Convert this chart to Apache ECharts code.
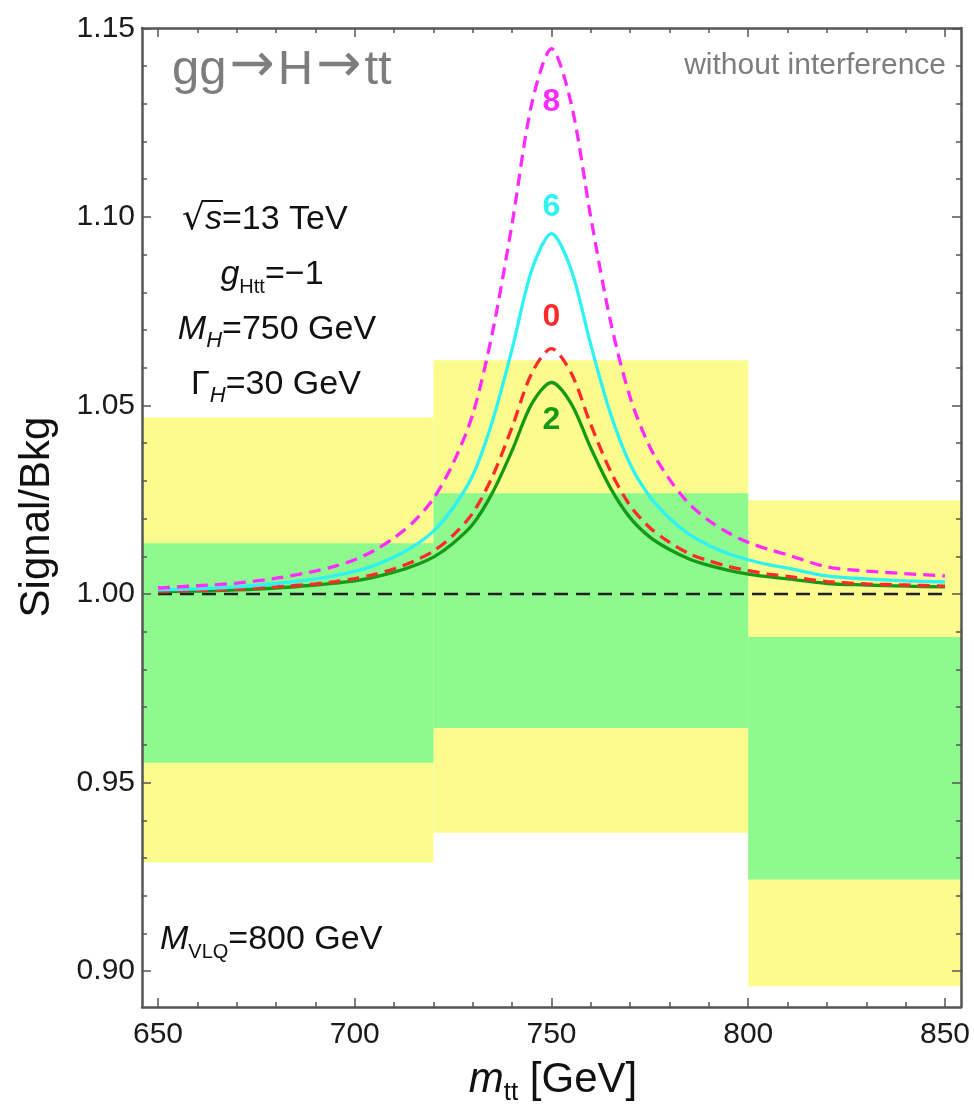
<!DOCTYPE html>
<html><head><meta charset="utf-8">
<script src="https://cdn.jsdelivr.net/npm/echarts@6/dist/echarts.min.js"></script>
<style>html,body{margin:0;padding:0;background:#fff}#c{width:974px;height:1111px}</style>
</head><body><div id="c"></div>
<script>
// ---------- data ----------
const massX  = [650,660,670,680,690,695,700,705,710,715,720,725,730,735,740,745,750,755,760,765,770,775,780,785,790,795,800,805,810,820,830,840,850];
const curve8 = [1.0016,1.0022,1.0029,1.0042,1.0061,1.0074,1.0091,1.0116,1.0149,1.0192,1.0253,1.0347,1.0477,1.0694,1.0983,1.1301,1.1446,1.1301,1.0998,1.0723,1.0521,1.0390,1.0304,1.0239,1.0195,1.0162,1.0137,1.0119,1.0104,1.0072,1.0061,1.0054,1.0048];
const curve6 = [1.0011,1.0014,1.0019,1.0028,1.0040,1.0049,1.0060,1.0076,1.0098,1.0127,1.0167,1.0229,1.0315,1.0459,1.0650,1.0860,1.0956,1.0860,1.0660,1.0478,1.0344,1.0258,1.0201,1.0158,1.0129,1.0107,1.0091,1.0078,1.0069,1.0048,1.0040,1.0035,1.0032];
const curve0 = [1.0007,1.0010,1.0013,1.0019,1.0027,1.0033,1.0041,1.0052,1.0067,1.0087,1.0114,1.0156,1.0215,1.0312,1.0443,1.0586,1.0651,1.0586,1.0449,1.0326,1.0234,1.0176,1.0137,1.0107,1.0088,1.0073,1.0062,1.0053,1.0047,1.0033,1.0027,1.0024,1.0021];
const curve2 = [1.0006,1.0008,1.0011,1.0016,1.0024,1.0029,1.0035,1.0045,1.0058,1.0075,1.0098,1.0135,1.0185,1.0269,1.0381,1.0505,1.0561,1.0505,1.0387,1.0281,1.0202,1.0151,1.0118,1.0093,1.0076,1.0063,1.0053,1.0046,1.0040,1.0028,1.0024,1.0021,1.0019];
const refLineX = [650, 850];
const refLineY = [1.0, 1.0];
const binLo = [640, 720, 800];
const binHi = [720, 800, 860];
const yellowLo = [0.9288, 0.9367, 0.8960];
const yellowHi = [1.0469, 1.0620, 1.0249];
const greenLo  = [0.9553, 0.9645, 0.9243];
const greenHi  = [1.0135, 1.0267, 0.9886];
const xTickLabels = [650, 700, 750, 800, 850];
const xMinorTicks = [660,670,680,690,710,720,730,740,760,770,780,790,810,820,830,840];
const yTickLabels = [0.90, 0.95, 1.00, 1.05, 1.10, 1.15];
const yMinorTicks = [0.91,0.92,0.93,0.94,0.96,0.97,0.98,0.99,1.01,1.02,1.03,1.04,1.06,1.07,1.08,1.09,1.11,1.12,1.13,1.14];
const curveNames = ['8', '6', '0', '2'];
const curveLabelAt = [[750, 1.1305], [750, 1.1026], [750, 1.0734], [750, 1.0460]];

// ---------- styles ----------
const FONT = '"Liberation Sans", Arial, Helvetica, sans-serif';
const FRAME = '#555';
const curveColors = ['#ff2bff', '#2ff2f2', '#ff2a2a', '#169a16'];
const curveDash = [[12, 7], 'solid', [12, 7], 'solid'];
const X_MIN = 645.93, X_MAX = 854.07, Y_MIN = 0.8905, Y_MAX = 1.1501;

function xAx(pos, major, label, line) {
  return {
    type: 'value', position: pos, min: X_MIN, max: X_MAX, z: 10,
    axisLine: { show: line, onZero: false, lineStyle: { color: FRAME, width: 2.5 } },
    axisTick: { show: true, inside: true, length: major ? 9 : 5, customValues: major ? xTickLabels : xMinorTicks,
                lineStyle: { color: FRAME, width: 1.5 } },
    axisLabel: { show: label, customValues: xTickLabels, fontSize: 30, color: '#1a1a1a', fontFamily: FONT, margin: 13,
                 formatter: v => String(Math.round(v)) },
    splitLine: { show: false }
  };
}
function yAx(pos, major, label, line) {
  return {
    type: 'value', position: pos, min: Y_MIN, max: Y_MAX, z: 10,
    axisLine: { show: line, onZero: false, lineStyle: { color: FRAME, width: 2.5 } },
    axisTick: { show: true, inside: true, length: major ? 9 : 5, customValues: major ? yTickLabels : yMinorTicks,
                lineStyle: { color: FRAME, width: 1.5 } },
    axisLabel: { show: label, customValues: yTickLabels, fontSize: 30, color: '#1a1a1a', fontFamily: FONT, margin: 7,
                 formatter: v => v.toFixed(2) },
    splitLine: { show: false }
  };
}

function bandSeries(lo, hi, color) {
  return {
    type: 'custom', xAxisIndex: 0, yAxisIndex: 0, clip: true, z: 1, silent: true,
    encode: { x: [0, 1], y: [2, 3] },
    data: binLo.map((b, i) => [b, binHi[i], lo[i], hi[i]]),
    renderItem: (params, api) => {
      const a = api.coord([api.value(0), api.value(3)]);
      const b = api.coord([api.value(1), api.value(2)]);
      return { type: 'rect', shape: { x: a[0], y: a[1], width: b[0] - a[0], height: b[1] - a[1] },
               style: { fill: color } };
    }
  };
}

const curves = [curve8, curve6, curve0, curve2];
const lineSeries = curves.map((c, k) => ({
  type: 'line', xAxisIndex: 0, yAxisIndex: 0, showSymbol: false, smooth: 0.3, z: 6 - k, silent: true,
  data: massX.map((x, i) => [x, c[i]]),
  lineStyle: { color: curveColors[k], width: 3.3, type: curveDash[k] }
}));

const chart = echarts.init(document.getElementById('c'), null, { renderer: 'canvas' });
chart.setOption({
  backgroundColor: '#fff',
  animation: false,
  grid: { left: 142, right: 13, top: 28, bottom: 104, containLabel: false },
  xAxis: [xAx('bottom', true, true, true), xAx('bottom', false, false, false),
          xAx('top', true, false, true), xAx('top', false, false, false)],
  yAxis: [yAx('left', true, true, true), yAx('left', false, false, false),
          yAx('right', true, false, true), yAx('right', false, false, false)],
  series: [
    bandSeries(yellowLo, yellowHi, '#fcfb8d'),
    bandSeries(greenLo, greenHi, '#8ef98e'),
    { type: 'line', xAxisIndex: 0, yAxisIndex: 0, showSymbol: false, z: 3, silent: true,
      data: refLineX.map((x, i) => [x, refLineY[i]]),
      lineStyle: { color: '#222', width: 2.5, type: [14, 8] } }
  ].concat(lineSeries)
});

// ---------- annotations ----------
const INK = '#111';
const base = { fontFamily: FONT, fontSize: 34, fill: INK, lineHeight: 44 };
const ital = Object.assign({}, base, { fontStyle: 'italic' });
const subI = { fontFamily: FONT, fontSize: 22, fontStyle: 'italic', fill: INK, lineHeight: 22, verticalAlign: 'bottom' };
const subN = { fontFamily: FONT, fontSize: 20, fill: INK, lineHeight: 22, verticalAlign: 'bottom' };
const rich = { n: base, i: ital, si: subI, sn: subN,
  r: { fontFamily: '"DejaVu Sans", sans-serif', fontSize: 36, fill: INK, lineHeight: 44 } };

function rtext(x, y, text, align) {
  return { type: 'text', x: x, y: y, z: 50, silent: true,
    style: { text: text, rich: rich, align: align || 'center', verticalAlign: 'middle' } };
}

const GRAY = '#7d7d7d';
const graphics = [
  { type: 'text', x: 172, y: 70, z: 50, silent: true,
    style: { text: '{a|gg}{b|→}{a|H}{b|→}{a|tt}', align: 'left', verticalAlign: 'middle', fill: GRAY,
      rich: { a: { fontFamily: FONT, fontSize: 49, fill: GRAY, lineHeight: 56 },
              b: { fontFamily: '"DejaVu Sans", sans-serif', fontSize: 54, fill: GRAY, lineHeight: 56, padding: [0, 3, 6, 3] } } } },
  { type: 'text', x: 946, y: 66, z: 50, silent: true,
    style: { text: 'without interference', fontFamily: FONT, fontSize: 30, fill: GRAY, align: 'right', verticalAlign: 'middle' } },
  rtext(182, 220, '{r|√}{i|s}{n|=13 TeV}', 'left'),
  { type: 'line', z: 50, silent: true, shape: { x1: 203, y1: 201, x2: 223, y2: 201 }, style: { stroke: INK, lineWidth: 2 } },
  rtext(272, 275, '{i|g}{sn|Htt}{n|=−1}'),
  rtext(277, 330, '{i|M}{si|H}{n|=750 GeV}'),
  rtext(276, 385, '{n|Γ}{si|H}{n|=30 GeV}'),
  rtext(160, 940, '{i|M}{sn|VLQ}{n|=800 GeV}', 'left'),
  { type: 'text', x: 37, y: 517, rotation: Math.PI / 2, z: 50, silent: true,
    style: { text: 'Signal/Bkg', fontFamily: FONT, fontSize: 42, fill: INK, align: 'center', verticalAlign: 'middle' } },
  { type: 'text', x: 553, y: 1080, z: 50, silent: true,
    style: { text: '{i|m}{sn|tt}{n| [GeV]}', align: 'center', verticalAlign: 'middle',
      rich: { i: { fontFamily: FONT, fontSize: 42, fontStyle: 'italic', fill: INK, lineHeight: 52 },
              n: { fontFamily: FONT, fontSize: 42, fill: INK, lineHeight: 52 },
              sn: { fontFamily: FONT, fontSize: 26, fill: INK, lineHeight: 26, verticalAlign: 'bottom' } } } }
];
curveNames.forEach((t, k) => {
  const p = chart.convertToPixel({ xAxisIndex: 0, yAxisIndex: 0 }, curveLabelAt[k]);
  graphics.push({ type: 'text', x: p[0], y: p[1], z: 50, silent: true,
    style: { text: t, fontFamily: FONT, fontSize: 32, fontWeight: 'bold', fill: curveColors[k], align: 'center', verticalAlign: 'middle' } });
});
chart.setOption({ graphic: graphics });
</script>
</body></html>
